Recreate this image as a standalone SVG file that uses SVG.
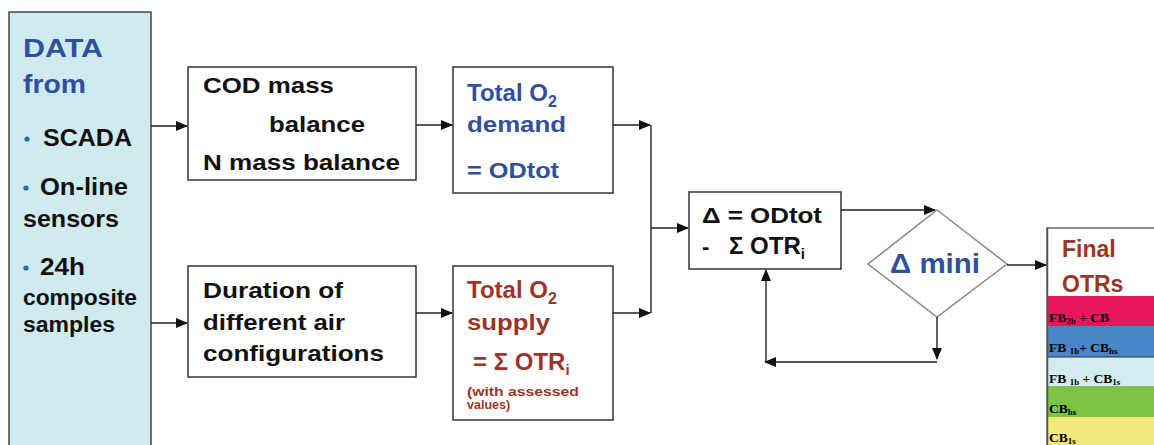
<svg xmlns="http://www.w3.org/2000/svg" width="1154" height="445" viewBox="0 0 1154 445">
<style>
text{font-family:"Liberation Sans",Arial,sans-serif;font-weight:bold}
.k{fill:#111}
.b{fill:#2F4FA3}
.r{fill:#9C3526}
.box{fill:#fff;stroke:#333;stroke-width:1.5}
.ln{fill:none;stroke:#222;stroke-width:1.4}
.band{font-family:"Liberation Serif","Times New Roman",serif;font-size:13.5px;font-weight:bold;fill:#000}
</style>
<defs>
<marker id="ah" markerUnits="userSpaceOnUse" markerWidth="12" markerHeight="10" refX="11" refY="5" orient="auto">
<path d="M0,0 L12,5 L0,10 Z" fill="#111"/>
</marker>
</defs>
<rect width="1154" height="445" fill="#fff"/>

<g id="data">
<rect x="9" y="12" width="142" height="440" fill="#CFEBF0" stroke="#444" stroke-width="1.5"/>
<text class="b" x="23" y="57" font-size="26" textLength="80" lengthAdjust="spacingAndGlyphs">DATA</text>
<text class="b" x="23" y="93" font-size="26" textLength="63" lengthAdjust="spacingAndGlyphs">from</text>
<circle cx="27" cy="139" r="2.6" fill="#1F6FA8"/>
<text class="k" x="43" y="146" font-size="23" textLength="89" lengthAdjust="spacingAndGlyphs">SCADA</text>
<circle cx="26" cy="188" r="2.6" fill="#1F6FA8"/>
<text class="k" x="40" y="195" font-size="23" textLength="88" lengthAdjust="spacingAndGlyphs">On-line</text>
<text class="k" x="23" y="227" font-size="23" textLength="96" lengthAdjust="spacingAndGlyphs">sensors</text>
<circle cx="26" cy="268" r="2.6" fill="#1F6FA8"/>
<text class="k" x="40" y="275" font-size="23" textLength="45" lengthAdjust="spacingAndGlyphs">24h</text>
<text class="k" x="23" y="305" font-size="22" textLength="114" lengthAdjust="spacingAndGlyphs">composite</text>
<text class="k" x="23" y="332" font-size="22" textLength="92" lengthAdjust="spacingAndGlyphs">samples</text>
</g>

<g id="cod">
<rect class="box" x="188" y="67" width="228" height="113"/>
<text class="k" x="203" y="93" font-size="22" textLength="131" lengthAdjust="spacingAndGlyphs">COD mass</text>
<text class="k" x="269" y="132" font-size="22" textLength="96" lengthAdjust="spacingAndGlyphs">balance</text>
<text class="k" x="203" y="170" font-size="22" textLength="197" lengthAdjust="spacingAndGlyphs">N mass balance</text>
</g>

<g id="demand">
<rect class="box" x="453" y="67" width="160" height="126"/>
<text class="b" x="467" y="101" font-size="24">Total O<tspan font-size="16" dy="6">2</tspan></text>
<text class="b" x="467" y="132" font-size="22" textLength="99" lengthAdjust="spacingAndGlyphs">demand</text>
<text class="b" x="467" y="178" font-size="22" textLength="92" lengthAdjust="spacingAndGlyphs">= ODtot</text>
</g>

<g id="duration">
<rect class="box" x="188" y="266" width="228" height="111"/>
<text class="k" x="203" y="298" font-size="22" textLength="140" lengthAdjust="spacingAndGlyphs">Duration of</text>
<text class="k" x="203" y="330" font-size="22" textLength="142" lengthAdjust="spacingAndGlyphs">different air</text>
<text class="k" x="203" y="361" font-size="22" textLength="181" lengthAdjust="spacingAndGlyphs">configurations</text>
</g>

<g id="supply">
<rect class="box" x="453" y="266" width="160" height="154"/>
<text class="r" x="467" y="298" font-size="24">Total O<tspan font-size="16" dy="6">2</tspan></text>
<text class="r" x="467" y="330" font-size="22" textLength="83" lengthAdjust="spacingAndGlyphs">supply</text>
<text class="r" x="473" y="370" font-size="24">= Σ OTR<tspan font-size="15" dy="5">i</tspan></text>
<text class="r" x="467" y="396" font-size="12.5" textLength="112" lengthAdjust="spacingAndGlyphs">(with assessed</text>
<text class="r" x="467" y="409" font-size="12.5">values)</text>
</g>

<g id="delta">
<rect class="box" x="689" y="192" width="152" height="77"/>
<text class="k" x="702" y="223" font-size="22" textLength="120" lengthAdjust="spacingAndGlyphs">Δ = ODtot</text>
<text class="k" x="702" y="254" font-size="22">-</text>
<text class="k" x="729" y="254" font-size="24">Σ OTR<tspan font-size="15" dy="5">i</tspan></text>
</g>

<g id="mini">
<polygon points="937,210 1007,264 937,317 868,264" fill="#fff" stroke="#888" stroke-width="1.5"/>
<text class="b" x="890" y="273" font-size="27" textLength="90" lengthAdjust="spacingAndGlyphs">Δ mini</text>
</g>

<g id="final">
<rect x="1047" y="228" width="120" height="230" fill="#fff" stroke="#666" stroke-width="1.5"/>
<text class="r" x="1062" y="257" font-size="23">Final</text>
<text class="r" x="1062" y="292" font-size="23">OTRs</text>
<rect x="1048" y="296" width="110" height="30" fill="#E8175D"/>
<rect x="1048" y="326" width="110" height="31" fill="#4A86C6"/>
<rect x="1048" y="357" width="110" height="29" fill="#D2ECF2"/>
<rect x="1048" y="386" width="110" height="31" fill="#7DC243"/>
<rect x="1048" y="417" width="110" height="30" fill="#F2EA7A"/>
<line x1="1048" y1="357" x2="1154" y2="357" stroke="#333" stroke-width="1.2"/>
<line x1="1047.5" y1="228" x2="1047.5" y2="445" stroke="#555" stroke-width="1.5"/>
<text class="band" x="1049" y="322">FB<tspan font-size="9" dy="2">2b</tspan><tspan dy="-2"> + CB</tspan></text>
<text class="band" x="1049" y="352">FB <tspan font-size="9" dy="2">1b</tspan><tspan dy="-2">+ CB</tspan><tspan font-size="9" dy="2">hs</tspan></text>
<text class="band" x="1049" y="383">FB <tspan font-size="9" dy="2">1b</tspan><tspan dy="-2"> + CB</tspan><tspan font-size="9" dy="2">1s</tspan></text>
<text class="band" x="1049" y="413">CB<tspan font-size="9" dy="2">hs</tspan></text>
<text class="band" x="1049" y="442">CB<tspan font-size="9" dy="2">1s</tspan></text>
</g>

<g id="connectors">
<path class="ln" d="M151,126 H187" marker-end="url(#ah)"/>
<path class="ln" d="M151,323 H187" marker-end="url(#ah)"/>
<path class="ln" d="M416,125 H452" marker-end="url(#ah)"/>
<path class="ln" d="M416,313 H452" marker-end="url(#ah)"/>
<path class="ln" d="M613,125 H650" marker-end="url(#ah)"/>
<path class="ln" d="M613,313 H650" marker-end="url(#ah)"/>
<path class="ln" d="M651,125 V313"/>
<path class="ln" d="M651,228 H688" marker-end="url(#ah)"/>
<path class="ln" d="M841,210 H935" marker-end="url(#ah)"/>
<path class="ln" d="M937,317 V359" marker-end="url(#ah)"/>
<path class="ln" d="M937,362 H765" marker-end="url(#ah)"/>
<path class="ln" d="M766,362 V270" marker-end="url(#ah)"/>
<path class="ln" d="M1007,265 H1046" marker-end="url(#ah)"/>
</g>
</svg>
